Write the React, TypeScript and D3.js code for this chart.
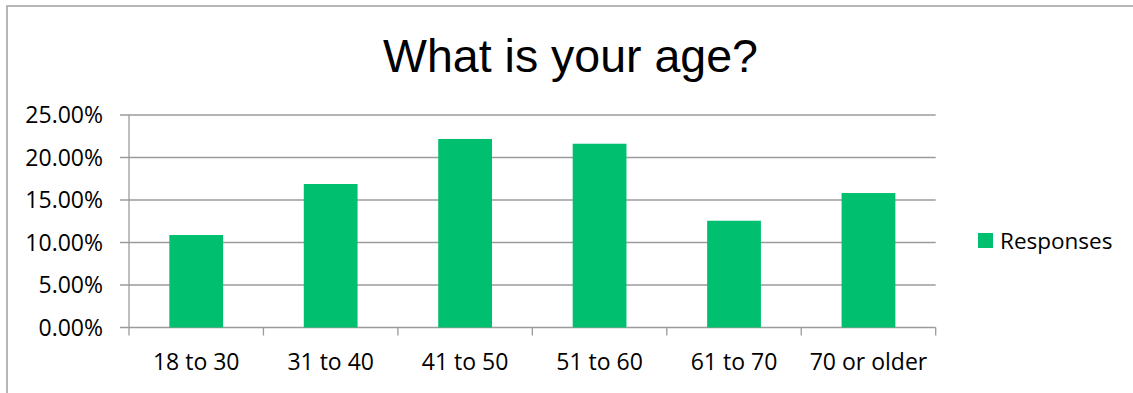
import React, { useRef, useEffect } from 'react';
import * as d3 from 'd3';

const categories = ['18 to 30', '31 to 40', '41 to 50', '51 to 60', '61 to 70', '70 or older'];
const responses = [0.1088, 0.1688, 0.2218, 0.2162, 0.1256, 0.1582];
const yTicks = [0, 0.05, 0.1, 0.15, 0.2, 0.25];
const seriesName = 'Responses';
const chartTitle = 'What is your age?';

const WIDTH = 1133;
const HEIGHT = 393;
const FONT = "'Open Sans', sans-serif";

const App: React.FC = () => {
  const ref = useRef<SVGSVGElement>(null);

  useEffect(() => {
    const svg = d3.select(ref.current);
    svg.selectAll('*').remove();

    const left = 129;
    const right = 935.7;
    const top = 115;
    const bottom = 327.5;
    const gray = '#9b9b9b';

    // chart border (only top and left are visible)
    svg
      .append('path')
      .attr('d', `M7,${HEIGHT} L7,6 L${WIDTH},6`)
      .attr('fill', 'none')
      .attr('stroke', '#a0a0a0')
      .attr('stroke-width', 1.5);

    svg
      .append('text')
      .attr('x', 570.5)
      .attr('y', 72)
      .attr('text-anchor', 'middle')
      .style('font-family', "'Liberation Sans', Arial, sans-serif")
      .style('font-size', '46.5px')
      .style('fill', '#000')
      .text(chartTitle);

    const x = d3.scaleBand().domain(categories).range([left, right]).paddingInner(0.6).paddingOuter(0.3);
    const xb = d3.scaleBand().domain(categories).range([left, right]);
    const y = d3.scaleLinear().domain([0, 0.25]).range([bottom, top]);

    // gridlines + y tick marks
    svg
      .append('g')
      .selectAll('line')
      .data(yTicks)
      .enter()
      .append('line')
      .attr('x1', left - 9)
      .attr('x2', right)
      .attr('y1', (d) => y(d))
      .attr('y2', (d) => y(d))
      .attr('stroke', gray)
      .attr('stroke-width', 1.3);

    svg
      .append('g')
      .selectAll('text')
      .data(yTicks)
      .enter()
      .append('text')
      .attr('x', 103)
      .attr('y', (d) => y(d))
      .attr('dy', '0.36em')
      .attr('text-anchor', 'end')
      .style('font-family', FONT)
      .style('font-size', '23px')
      .style('fill', '#000')
      .text((d) => d3.format('.2%')(d));

    // bars
    svg
      .append('g')
      .selectAll('rect')
      .data(responses)
      .enter()
      .append('rect')
      .attr('x', (_d, i) => x(categories[i]) as number)
      .attr('width', x.bandwidth())
      .attr('y', (d) => y(d))
      .attr('height', (d) => bottom - y(d))
      .attr('fill', '#00bf6f');

    // axes
    svg
      .append('line')
      .attr('x1', left)
      .attr('x2', left)
      .attr('y1', top)
      .attr('y2', bottom)
      .attr('stroke', gray)
      .attr('stroke-width', 1.3);

    const bounds = categories.map((c) => xb(c) as number).concat([right]);
    svg
      .append('g')
      .selectAll('line')
      .data(bounds)
      .enter()
      .append('line')
      .attr('x1', (d) => d)
      .attr('x2', (d) => d)
      .attr('y1', bottom)
      .attr('y2', bottom + 8)
      .attr('stroke', gray)
      .attr('stroke-width', 1.3);

    svg
      .append('g')
      .selectAll('text')
      .data(categories)
      .enter()
      .append('text')
      .attr('x', (d) => (xb(d) as number) + xb.bandwidth() / 2)
      .attr('y', 370)
      .attr('text-anchor', 'middle')
      .style('font-family', FONT)
      .style('font-size', '23px')
      .style('fill', '#000')
      .text((d) => d);

    // legend
    svg
      .append('rect')
      .attr('x', 978)
      .attr('y', 233)
      .attr('width', 15)
      .attr('height', 15)
      .attr('fill', '#00bf6f');

    svg
      .append('text')
      .attr('x', 1000)
      .attr('y', 240.5)
      .attr('dy', '0.36em')
      .style('font-family', FONT)
      .style('font-size', '22.5px')
      .style('fill', '#000')
      .text(seriesName);
  }, []);

  return (
    <svg
      ref={ref}
      width={WIDTH}
      height={HEIGHT}
      style={{ position: 'absolute', left: 0, top: 0, background: '#fff', display: 'block' }}
    />
  );
};

export default App;
